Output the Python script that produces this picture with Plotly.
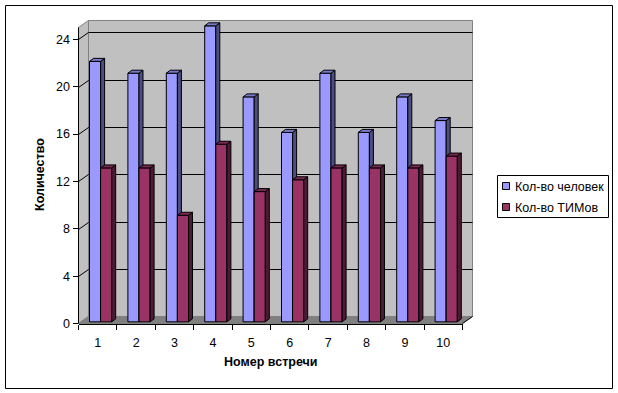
import plotly.graph_objects as go

categories = [1, 2, 3, 4, 5, 6, 7, 8, 9, 10]
people = [22, 21, 21, 25, 19, 16, 21, 16, 19, 17]
types = [13, 13, 9, 15, 11, 12, 13, 13, 13, 14]
y_ticks = [0, 4, 8, 12, 16, 20, 24]
series_names = ["Кол-во человек", "Кол-во ТИМов"]

W, H = 618, 393
X0, X1, Y0, Y1 = 78.5, 462.5, 323.5, 27.5
CAT = (X1 - X0) / 10
UNIT = (Y0 - Y1) / 25
DX, DY = 10, 7
Y_MAX = 26
FONT = "Liberation Sans, Arial, sans-serif"


def px(x):
    return x / W


def py(y):
    return 1 - y / H


def poly(points, fill, line="#000000", width=1, layer="below"):
    path = "M" + " L".join(f"{px(a):.5f},{py(b):.5f}" for a, b in points) + " Z"
    return dict(type="path", xref="paper", yref="paper", path=path, fillcolor=fill,
                line=dict(color=line, width=width), layer=layer)


def seg(a, b, c, d, color="#000000", width=1):
    return dict(type="line", xref="paper", yref="paper", x0=px(a), y0=py(b), x1=px(c), y1=py(d),
                line=dict(color=color, width=width), layer="below")


shapes = [
    dict(type="rect", xref="paper", yref="paper", x0=px(5.5), x1=px(612.5), y0=py(388.5), y1=py(5.5),
         line=dict(color="#000000", width=1), fillcolor="#FFFFFF", layer="below"),
    poly([(X0 + DX, Y1 - DY), (X1 + DX, Y1 - DY), (X1 + DX, Y0 - DY), (X0 + DX, Y0 - DY)], "#C0C0C0", "#808080"),
    poly([(X0, Y0), (X0 + DX, Y0 - DY), (X0 + DX, Y1 - DY), (X0, Y1)], "#C0C0C0", "#808080"),
    poly([(X0, Y0), (X0 + DX, Y0 - DY), (X1 + DX, Y0 - DY), (X1, Y0)], "#808080", "#808080"),
    seg(X0, Y0, X0, Y1),
]
for v in y_ticks[1:]:
    yy = round(Y0 - v * UNIT) + 0.5
    shapes.append(seg(X0, yy, X0 + DX, yy - DY))
    shapes.append(seg(X0 + DX, yy - DY, X1 + DX, yy - DY))
shapes.append(seg(X1, Y0, X1 + DX, Y0 - DY, "#000000"))

# Legend, drawn to the reference's compact size
shapes += [
    dict(type="rect", xref="paper", yref="paper", x0=px(497.5), x1=px(608.5), y0=py(217.5), y1=py(175.5),
         line=dict(color="#000000", width=1), fillcolor="#FFFFFF", layer="above"),
    dict(type="rect", xref="paper", yref="paper", x0=px(502.5), x1=px(509.5), y0=py(189.5), y1=py(182.5),
         line=dict(color="#000000", width=1), fillcolor="#9999FF", layer="above"),
    dict(type="rect", xref="paper", yref="paper", x0=px(502.5), x1=px(509.5), y0=py(210.5), y1=py(203.5),
         line=dict(color="#000000", width=1), fillcolor="#993366", layer="above"),
]

tick_font = dict(family=FONT, size=12.5, color="#000000")

annotations = [
    dict(xref="paper", yref="paper", x=px(513), y=py(186.5), text=series_names[0], showarrow=False,
         xanchor="left", yanchor="middle", font=tick_font),
    dict(xref="paper", yref="paper", x=px(513), y=py(207.5), text=series_names[1], showarrow=False,
         xanchor="left", yanchor="middle", font=tick_font),
    dict(xref="paper", yref="paper", x=px(270), y=py(361.5), text="<b>Номер встречи</b>", showarrow=False,
         xanchor="center", yanchor="middle", font=tick_font),
    dict(xref="paper", yref="paper", x=px(40), y=py(175), text="<b>Количество</b>", showarrow=False,
         xanchor="center", yanchor="middle", textangle=-90, font=tick_font),
]

BASE = 0.14
BAR_W = 11.1 / CAT
DEPTH_X = 4 / CAT
DEPTH_Y = 3 / UNIT


def add_series(fig, values, offset, front, side, top, name, xa, ya):
    fig.add_trace(go.Bar(x=categories, y=values, base=BASE, width=BAR_W, offset=offset, name=name,
                         marker=dict(color=front, line=dict(color="#000000", width=1)),
                         showlegend=False, xaxis=xa, yaxis=ya))
    sx, sy, tx, ty = [], [], [], []
    for c, v in zip(categories, values):
        l = c + offset
        r = l + BAR_W
        t = v + BASE
        sx += [r, r + DEPTH_X, r + DEPTH_X, r, r, None]
        sy += [BASE, BASE + DEPTH_Y, t + DEPTH_Y, t, BASE, None]
        tx += [l, l + DEPTH_X, r + DEPTH_X, r, l, None]
        ty += [t, t + DEPTH_Y, t + DEPTH_Y, t, t, None]
    for xs, ys, col in ((sx, sy, side), (tx, ty, top)):
        fig.add_trace(go.Scatter(x=xs, y=ys, mode="lines", fill="toself", fillcolor=col,
                                 line=dict(color="#000000", width=1), hoverinfo="skip",
                                 showlegend=False, xaxis=xa, yaxis=ya))


fig = go.Figure()
OFF_BLUE = (89.5 - (X0 + CAT / 2)) / CAT
OFF_RED = OFF_BLUE + BAR_W
add_series(fig, people, OFF_BLUE, "#9999FF", "#4D4D80", "#7A7ACC", series_names[0], "x", "y")
add_series(fig, types, OFF_RED, "#993366", "#4D1A33", "#7A2952", series_names[1], "x2", "y2")

dom_x = [px(X0), px(X1)]
dom_y = [py(Y0), py(Y0 - Y_MAX * UNIT)]
fig.update_layout(
    width=W, height=H, margin=dict(l=0, r=0, t=0, b=0), autosize=False,
    paper_bgcolor="#FFFFFF", plot_bgcolor="rgba(0,0,0,0)",
    barmode="overlay", showlegend=False, shapes=shapes, annotations=annotations,
    xaxis=dict(domain=dom_x, range=[0.5, 10.5], tickmode="array", tickvals=categories,
               ticktext=[str(c) for c in categories], ticks="outside", ticklen=7,
               tickcolor="rgba(0,0,0,0)", showgrid=False, zeroline=False, showline=True,
               linecolor="#000000", linewidth=1, tickfont=tick_font, automargin=False,
               minor=dict(tickmode="array", tickvals=[c - 0.5 for c in categories] + [10.5],
                          ticks="outside", ticklen=5, tickcolor="#000000", tickwidth=1, showgrid=False)),
    yaxis=dict(domain=dom_y, range=[0, Y_MAX], tickmode="array", tickvals=y_ticks, ticks="outside",
               ticklen=5, tickcolor="#000000", showgrid=False, zeroline=False, showline=False,
               tickfont=tick_font, automargin=False),
    xaxis2=dict(domain=dom_x, range=[0.5, 10.5], overlaying="x", visible=False),
    yaxis2=dict(domain=dom_y, range=[0, Y_MAX], overlaying="y", visible=False),
)
fig.write_html("out.html", config={"displayModeBar": False},
               post_script="document.body.style.margin='0';")
